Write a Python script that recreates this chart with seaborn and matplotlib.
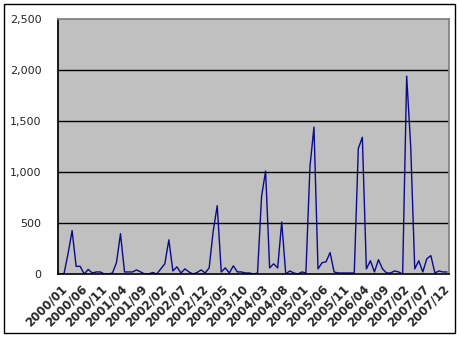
import matplotlib
matplotlib.use("Agg")
import matplotlib.pyplot as plt
import seaborn as sns
import pandas as pd
import numpy as np
from matplotlib.patches import Rectangle

# Monthly values 2000/01 .. 2008/01
months = [f"{y}/{m:02d}" for y in range(2000, 2009) for m in range(1, 13)][:97]
values = [
    0, 5, 200, 425, 75, 75, 0, 45, 10, 20, 20, 0,          # 2000
    0, 10, 110, 395, 20, 20, 20, 40, 20, 0, 0, 15,          # 2001
    0, 50, 100, 335, 30, 70, 10, 50, 20, 0, 15, 40,         # 2002
    10, 60, 420, 670, 20, 60, 10, 80, 20, 20, 10, 10,       # 2003
    0, 10, 760, 1010, 60, 100, 60, 510, 0, 30, 10, 0,       # 2004
    20, 10, 1050, 1440, 50, 110, 120, 210, 20, 10, 10, 10,  # 2005
    10, 10, 1230, 1340, 50, 130, 20, 140, 50, 10, 10, 30,   # 2006
    20, 0, 1940, 1250, 50, 130, 20, 150, 180, 10, 30, 20,   # 2007
    20,                                                     # 2008
]
tick_labels = months[::5]
yticks = [0, 500, 1000, 1500, 2000, 2500]

df = pd.DataFrame({"idx": np.arange(len(values)), "value": values})

sns.set_theme(style="white")
plt.rcParams['font.family'] = ['DejaVu Sans']

fig = plt.figure(figsize=(4.6, 3.37), dpi=100)
fig.patch.set_facecolor("white")
fig.patches.append(Rectangle((4/460, 4/337), 451/460, 329/337, transform=fig.transFigure,
                             fill=False, edgecolor="black", linewidth=1.0))

ax = fig.add_axes([58/460, 1-274/337, 391/460, 255/337])
ax.set_facecolor("#C0C0C0")
sns.lineplot(data=df, x="idx", y="value", ax=ax, color="#0A0A8C", linewidth=1.0)

ax.set_xlim(-0.5, len(values) - 0.5)
ax.set_ylim(0, 2500)
ax.set_yticks(yticks)
ax.set_yticklabels([f"{v:,}" for v in yticks], fontsize=8)
for v in yticks[1:-1]:
    ax.axhline(v, color="black", linewidth=1.0, zorder=1)

ax.set_xticks(np.arange(0, len(values), 5))
ax.set_xticklabels(tick_labels, rotation=45, ha="right", rotation_mode="anchor",
                   fontsize=8.5, fontweight="bold")
ax.set_xticks(np.arange(-0.5, len(values), 1), minor=True)
ax.tick_params(axis="x", which="major", length=0, pad=6)
ax.tick_params(axis="x", which="minor", length=3, direction="in", color="black", width=0.8)
ax.tick_params(axis="y", length=0, pad=12)
ax.set_xlabel("")
ax.set_ylabel("")

ax.spines["left"].set_color("black")
ax.spines["bottom"].set_color("black")
ax.spines["bottom"].set_linewidth(1.2)
ax.spines["top"].set_color("#808080")
ax.spines["right"].set_color("#808080")
for s in ax.spines.values():
    s.set_visible(True)

fig.savefig("out.png", dpi=100)
